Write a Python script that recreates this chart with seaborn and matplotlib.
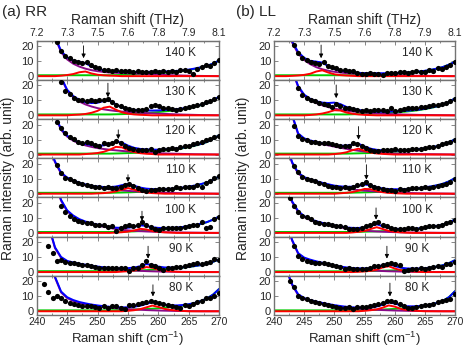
import numpy as np
import matplotlib
matplotlib.use('Agg')
import matplotlib.pyplot as plt
import seaborn as sns
from matplotlib.ticker import MultipleLocator

NA = np.nan

TEMPS = ['140 K', '130 K', '120 K', '110 K', '100 K', '90 K', '80 K']
CM_TICKS = [240, 245, 250, 255, 260, 265, 270]
THZ_LABELS = ['7.2', '7.3', '7.5', '7.6', '7.8', '7.9', '8.1']

# measured points (cm-1)
SHIFT = [241.2, 241.9, 242.6, 243.3, 244.0, 244.7, 245.4, 246.1, 246.8, 247.5,
         248.2, 248.9, 249.6, 250.3, 251.0, 251.7, 252.4, 253.1, 253.8, 254.5,
         255.2, 255.9, 256.6, 257.3, 258.0, 258.7, 259.4, 260.1, 260.8, 261.5,
         262.2, 262.9, 263.6, 264.3, 265.0, 265.7, 266.4, 267.1, 267.8, 268.5,
         269.2, 269.9]
# fit components sampled every 1 cm-1 from 240 to 270
FIT_SHIFT = list(range(240, 271))

# ---------------- RR ----------------
rr140 = [NA, NA, NA, 22.5, 16.5, 13.5, 11.8, 10.2, 9.3, 9.0, 9.6, 7.4, 6.4, 5.4, 4.4, 4.0, 3.6, 4.1, 3.4, 3.2,
         3.6, 3.0, 3.3, 2.8, 3.1, 2.6, 3.4, 2.7, 3.3, 3.0, 3.6, 2.6, 3.8, 4.0, 3.2, 1.6, 4.6, 5.8, 7.3, 7.0, 8.8, 10.6]
rr140_low = [80, 55, 37, 26, 16, 11.2, 8.3, 6.4, 5.0, 4.0, 3.3, 2.8, 2.4, 2.2, 2.1, 1.9, 1.8, 1.6, 1.4, 1.2,
             1.0, 0.8, 0.65, 0.5, 0.4, 0.3, 0.2, 0.15, 0.1, 0.05, 0]
rr140_high = [0.6] * 13 + [0.7, 0.8, 0.9, 1.0, 1.2, 1.4, 1.7, 2.0, 2.3, 2.6, 3.0, 3.5, 4.1, 4.9, 5.8, 6.8, 8.4, 10.5]
rr140_peak = [0] * 4 + [0.3, 0.75, 1.4, 2.6, 3.1, 1.8, 0.95, 0.55, 0.35, 0.2] + [0] * 17

rr130 = [NA, NA, NA, NA, 22.5, 16.0, 14.5, 11.6, 10.3, 10.0, 9.6, 10.2, 9.8, 10.4, 10.2, 11.0, 8.6, 7.0, 6.0, 5.0,
         4.2, 3.8, 3.5, 3.6, 4.4, 6.2, 6.8, 6.0, 5.2, 4.8, 4.2, 3.8, 4.3, 4.9, 5.6, 6.2, 6.9, 7.8, 8.6, 9.4, 10.8, 12.2]
rr130_low = [90, 65, 46, 34, 25, 16.5, 12, 9.2, 7.3, 5.9, 4.8, 4.0, 3.4, 2.9, 2.5, 2.2, 1.9, 1.7, 1.5, 1.3,
             1.1, 0.95, 0.8, 0.65, 0.5, 0.4, 0.3, 0.2, 0.15, 0.1, 0.05]
rr130_high = [0.6] * 13 + [0.7, 0.8, 0.95, 1.1, 1.3, 1.55, 1.9, 2.2, 2.6, 3.0, 3.5, 4.1, 4.8, 5.7, 6.8, 8.1, 10.0, 12.5]
rr130_peak = [0] * 6 + [0.3, 0.5, 0.9, 1.7, 3.0, 5.1, 5.8, 3.8, 2.0, 1.1, 0.6, 0.35, 0.2] + [0] * 12

rr120 = [NA, NA, NA, 22.0, 17.5, 14.3, 12.0, 10.3, 8.6, 8.0, 8.5, 7.6, 6.3, 5.8, 7.4, 7.0, 7.6, 9.0, 8.0, 6.0,
         4.2, 3.6, 3.1, 3.3, 3.0, 3.4, 2.0, 3.1, 3.5, 3.9, 4.6, 4.0, 5.0, 5.4, 6.0, 6.8, 7.4, 8.4, 9.6, 10.6, 11.5, 12.3]
rr120_low = [75, 52, 36, 25.5, 16.5, 12.0, 9.2, 7.4, 6.1, 5.1, 4.3, 3.7, 3.2, 2.8, 2.4, 2.1, 1.8, 1.55, 1.3, 1.1,
             0.9, 0.75, 0.6, 0.5, 0.4, 0.3, 0.2, 0.15, 0.1, 0.05, 0]
rr120_high = [0.6] * 13 + [0.7, 0.8, 0.95, 1.1, 1.3, 1.6, 1.9, 2.3, 2.7, 3.1, 3.6, 4.2, 5.0, 5.9, 7.0, 8.4, 10.4, 13.0]
rr120_peak = [0] * 8 + [0.3, 0.6, 1.0, 1.8, 3.2, 5.1, 4.8, 2.9, 1.6, 0.9, 0.5, 0.3] + [0] * 11

rr110 = [NA, NA, NA, 19.0, 14.0, 10.5, 9.6, 8.8, 7.3, 6.3, 5.5, 4.9, 4.6, 4.4, 4.0, 4.7, 3.8, 4.0, 4.4, 6.0,
         6.8, 5.3, 3.9, 2.8, 1.7, 2.7, 2.3, 2.9, 3.1, 3.4, 3.2, 4.4, 3.9, 4.6, 4.2, 4.5, 6.1, 4.6, 7.1, 8.6, 10.4, 11.8]
rr110_low = [70, 47, 32, 21, 13.5, 10.2, 8.3, 6.8, 5.6, 4.7, 4.0, 3.5, 3.0, 2.6, 2.2, 1.9, 1.6, 1.35, 1.1, 0.9,
             0.75, 0.6, 0.5, 0.4, 0.3, 0.25, 0.2, 0.15, 0.1, 0.05, 0]
rr110_high = [0.6] * 13 + [0.7, 0.8, 0.9, 1.05, 1.25, 1.5, 1.8, 2.1, 2.45, 2.8, 3.3, 3.8, 4.5, 5.3, 6.3, 7.5, 9.3, 11.6]
rr110_peak = [0] * 10 + [0.2, 0.4, 0.8, 1.5, 2.7, 3.8, 2.7, 1.5, 0.8, 0.4, 0.2] + [0] * 10

rr100 = [NA, NA, NA, NA, 18.0, 14.0, 11.0, 9.0, 7.8, 7.2, 6.7, 6.3, 5.6, 5.0, 5.1, 4.2, 4.6, 1.2, 3.5, 4.8,
         5.0, 4.6, 5.0, 7.1, 5.6, 4.2, 2.7, 1.8, 3.6, 3.2, 3.4, 3.6, 3.3, 3.8, 4.8, 5.2, 5.6, 7.6, 3.4, 3.8, 9.0, 10.8]
rr100_low = [100, 70, 48, 33, 21.5, 14.5, 11.0, 8.6, 7.0, 5.9, 4.9, 4.1, 3.3, 2.6, 2.1, 1.7, 1.4, 1.15, 0.95, 0.8,
             0.65, 0.5, 0.4, 0.3, 0.25, 0.2, 0.15, 0.1, 0.05, 0, 0]
rr100_high = [0.6] * 13 + [0.7, 0.8, 0.9, 1.0, 1.2, 1.45, 1.75, 2.05, 2.4, 2.75, 3.2, 3.7, 4.35, 5.1, 6.0, 7.2, 8.9, 11.0]
rr100_peak = [0] * 13 + [0.2, 0.45, 0.85, 1.6, 2.7, 2.3, 1.2, 0.65, 0.35, 0.2] + [0] * 8

rr90 = [NA, 17.2, 12.5, 7.4, 7.8, 7.0, 6.3, 5.8, 5.4, 4.9, 4.5, 3.8, 3.4, 2.5, 2.8, 2.6, 2.9, 2.4, 2.6, 2.9,
        0.9, 2.6, 3.0, 4.5, 7.1, 4.5, 4.1, 2.6, 1.5, 2.8, 3.0, 3.2, 3.5, 3.8, 4.5, 5.5, 6.4, 5.5, 6.0, 7.0, 8.5, 8.0]
rr90_low = [90, 55, 30, 16.0, 9.5, 6.9, 5.8, 5.0, 4.3, 3.7, 3.1, 2.6, 2.2, 1.8, 1.5, 1.2, 1.0, 0.8, 0.65, 0.5,
            0.4, 0.3, 0.25, 0.2, 0.15, 0.1, 0.05, 0, 0, 0, 0]
rr90_high = [0.6] * 13 + [0.7, 0.75, 0.85, 0.95, 1.1, 1.3, 1.5, 1.75, 2.0, 2.3, 2.6, 3.0, 3.5, 4.0, 4.7, 5.6, 6.9, 8.5]
rr90_peak = [0] * 14 + [0.3, 0.6, 1.05, 2.0, 3.35, 2.9, 1.5, 0.8, 0.45, 0.2] + [0] * 7

rr80 = [18.4, 13.0, 8.8, 9.9, 8.6, 6.6, 5.5, 4.8, 4.0, 3.4, 3.6, 3.6, 2.6, 2.1, 3.2, 2.4, 3.4, 3.6, 2.5, 1.7,
        3.9, 3.9, 4.6, 5.2, 6.0, 7.0, 6.3, 5.6, 5.1, 4.5, 3.8, 3.1, 2.1, 3.9, 3.8, 4.8, 5.9, 7.0, 8.8, 9.2, 10.5, 12.1]
rr80_low = [95, 60, 36, 22.5, 12.6, 8.8, 6.9, 5.6, 4.7, 3.9, 3.3, 2.8, 2.4, 2.0, 1.7, 1.4, 1.2, 1.0, 0.8, 0.65,
            0.5, 0.4, 0.3, 0.2, 0.15, 0.1, 0.05, 0, 0, 0, 0]
rr80_high = [0.6] * 13 + [0.75, 0.85, 1.0, 1.15, 1.3, 1.5, 1.7, 2.0, 2.4, 2.8, 3.2, 3.8, 4.6, 5.6, 6.9, 8.6, 11.2, 15.0]
rr80_peak = [0] * 15 + [0.3, 0.7, 1.4, 2.6, 3.8, 2.9, 1.6, 0.9, 0.5, 0.25] + [0] * 6

rr_arrow_x = [247.7, 251.7, 253.4, 255.0, 257.3, 258.3, 259.1]
rr_arrow_tip = [12.0, 12.1, 10.3, 7.8, 8.0, 9.0, 9.9]
rr_arrow_top = [20.3, 21.5, 16.5, 12.7, 14.5, 17.3, 17.7]

# ---------------- LL ----------------
ll140 = [NA, NA, NA, 20.5, 15.2, 11.9, 10.6, 9.6, 8.9, 8.1, 9.5, 6.8, 6.3, 5.2, 4.3, 3.8, 3.6, 3.3, 2.4, 1.5,
         1.6, 1.9, 1.7, 1.3, 0.8, 2.4, 1.9, 2.4, 2.8, 3.0, 2.4, 3.0, 3.7, 3.1, 3.0, 4.1, 3.7, 5.2, 4.6, 6.4, 7.5, 9.7]
ll140_low = [80, 52, 34, 22.5, 15.0, 10.8, 8.0, 6.0, 4.6, 3.6, 2.9, 2.4, 2.0, 1.7, 1.5, 1.3, 1.15, 1.0, 0.85, 0.7,
             0.6, 0.5, 0.4, 0.3, 0.25, 0.2, 0.15, 0.1, 0.05, 0, 0]
ll140_high = [0.6] * 13 + [0.65, 0.7, 0.75, 0.85, 0.95, 1.1, 1.3, 1.5, 1.75, 2.05, 2.4, 2.85, 3.4, 4.1, 5.0, 6.1, 7.7, 9.7]
ll140_peak = [0] * 3 + [0.2, 0.45, 0.85, 1.6, 3.1, 3.9, 2.4, 1.25, 0.7, 0.4, 0.2] + [0] * 17

ll130 = [NA, NA, NA, NA, 18.5, 13.7, 11.7, 10.3, 9.4, 8.5, 7.6, 6.6, 5.9, 7.4, 6.0, 5.0, 4.8, 4.5, 3.7, 3.0,
         3.7, 2.6, 3.5, 3.7, 3.6, 3.0, 4.8, 3.2, 3.6, 4.2, 4.8, 5.2, 5.2, 5.8, 5.6, 6.1, 6.6, 7.0, 7.4, 8.5, 9.4, 11.2]
ll130_low = [100, 68, 45, 30, 19.0, 13.2, 10.2, 8.2, 6.7, 5.5, 4.5, 3.7, 3.1, 2.6, 2.2, 1.85, 1.55, 1.3, 1.1, 0.9,
             0.75, 0.6, 0.5, 0.4, 0.3, 0.25, 0.2, 0.15, 0.1, 0.05, 0]
ll130_high = [0.6] * 13 + [0.7, 0.8, 0.9, 1.0, 1.15, 1.35, 1.6, 1.9, 2.2, 2.55, 3.0, 3.5, 4.2, 5.0, 5.9, 7.1, 8.9, 11.5]
ll130_peak = [0] * 6 + [0.25, 0.6, 1.2, 2.15, 3.4, 3.2, 1.9, 1.05, 0.6, 0.3, 0.15] + [0] * 14

ll120 = [NA, NA, NA, 19.0, 12.4, 10.6, 9.6, 8.7, 8.1, 7.8, 7.7, 7.4, 7.0, 6.4, 5.9, 5.4, 5.8, 7.4, 7.1, 5.9,
         4.4, 3.3, 2.6, 2.1, 3.1, 2.8, 3.3, 3.5, 3.2, 3.2, 3.2, 4.0, 3.5, 3.6, 4.4, 5.0, 5.3, 5.8, 6.9, 7.8, 8.3, 9.4]
ll120_low = [85, 60, 40, 26, 13.5, 10.2, 8.8, 7.8, 6.9, 6.1, 5.3, 4.5, 3.8, 3.1, 2.5, 2.0, 1.6, 1.3, 1.05, 0.85,
             0.7, 0.55, 0.45, 0.35, 0.3, 0.25, 0.2, 0.15, 0.1, 0.05, 0]
ll120_high = [0.6] * 13 + [0.7, 0.8, 0.9, 1.0, 1.15, 1.35, 1.6, 1.85, 2.15, 2.5, 2.9, 3.35, 3.9, 4.6, 5.4, 6.5, 8.1, 10.3]
ll120_peak = [0] * 10 + [0.3, 0.75, 1.5, 2.9, 3.9, 2.5, 1.3, 0.7, 0.4, 0.2] + [0] * 11

ll110 = [NA, NA, NA, 18.5, 14.3, 11.2, 10.1, 9.3, 8.8, 7.4, 6.3, 5.3, 4.7, 4.4, 3.9, 4.8, 4.0, 4.5, 5.5, 6.3,
         7.6, 5.8, 4.8, 3.8, 3.3, 2.8, 2.2, 1.6, 3.1, 2.7, 3.2, 3.6, 3.8, 3.9, 4.5, 3.8, 4.4, 4.9, 5.6, 6.6, 7.6, 9.8]
ll110_low = [75, 50, 33, 20.5, 13.5, 10.5, 9.0, 7.8, 6.7, 5.7, 4.8, 4.0, 3.4, 2.9, 2.4, 2.0, 1.7, 1.4, 1.15, 0.95,
             0.8, 0.65, 0.5, 0.4, 0.3, 0.25, 0.2, 0.15, 0.1, 0.05, 0]
ll110_high = [0.6] * 13 + [0.7, 0.8, 0.9, 1.0, 1.15, 1.35, 1.6, 1.9, 2.2, 2.55, 2.95, 3.4, 4.0, 4.7, 5.5, 6.6, 8.2, 10.5]
ll110_peak = [0] * 11 + [0.3, 0.6, 1.1, 2.0, 3.2, 3.0, 1.8, 1.0, 0.55, 0.3, 0.15] + [0] * 9

ll100 = [NA, NA, 23.0, 17.8, 14.0, 11.6, 10.5, 9.4, 7.2, 6.7, 6.1, 5.7, 5.3, 4.8, 4.4, 4.0, 2.8, 2.4, 2.5, 3.4,
         4.7, 5.6, 6.5, 7.0, 5.4, 4.4, 3.4, 2.4, 2.7, 2.7, 3.0, 3.4, 2.7, 3.4, 3.8, 4.3, 4.5, 4.8, 5.6, 6.6, 7.6, 8.9]
ll100_low = [75, 50, 32, 20.5, 14.0, 10.6, 8.6, 7.2, 6.1, 5.2, 4.4, 3.7, 3.0, 2.4, 1.9, 1.5, 1.2, 0.95, 0.75, 0.6,
             0.5, 0.4, 0.3, 0.25, 0.2, 0.15, 0.1, 0.05, 0, 0, 0]
ll100_high = [0.6] * 13 + [0.65, 0.7, 0.8, 0.9, 1.0, 1.15, 1.35, 1.55, 1.8, 2.05, 2.4, 2.8, 3.3, 3.9, 4.6, 5.6, 7.0, 9.0]
ll100_peak = [0] * 13 + [0.3, 0.7, 1.35, 2.6, 3.8, 2.6, 1.35, 0.7, 0.35, 0.15] + [0] * 8

ll90 = [NA, NA, NA, 17.5, 10.5, 8.8, 7.2, 6.6, 6.2, 5.8, 6.1, 5.5, 4.8, 4.0, 3.6, 2.3, 2.8, 2.2, 1.8, 1.9,
        2.2, 2.8, 3.8, 4.2, 4.7, 5.6, 6.1, 5.2, 4.5, 0.8, 1.6, 1.9, 2.3, 2.9, 2.0, 2.6, 3.5, 3.9, 3.7, 5.1, 5.1, 7.0]
ll90_low = [85, 55, 34, 21.0, 12.2, 9.2, 7.8, 6.7, 5.7, 4.8, 3.9, 3.2, 2.6, 2.1, 1.7, 1.35, 1.1, 0.9, 0.7, 0.55,
            0.45, 0.35, 0.25, 0.2, 0.15, 0.1, 0.05, 0, 0, 0, 0]
ll90_high = [0.5] * 13 + [0.55, 0.6, 0.65, 0.7, 0.8, 0.9, 1.0, 1.15, 1.3, 1.5, 1.75, 2.1, 2.5, 3.0, 3.7, 4.6, 6.0, 8.0]
ll90_peak = [0] * 14 + [0.2, 0.45, 0.85, 1.6, 3.1, 3.9, 2.4, 1.25, 0.7, 0.35, 0.15] + [0] * 6

ll80 = [NA, NA, 20.0, 16.0, 10.0, 8.9, 8.0, 7.1, 6.2, 5.4, 4.8, 4.0, 3.4, 2.9, 2.5, 2.2, 2.6, 1.8, 2.8, 2.8,
        2.9, 3.4, 4.0, 4.8, 5.4, 7.0, 6.7, 5.9, 4.7, 3.5, 2.5, 2.1, 3.0, 3.6, 3.9, 4.2, 5.0, 6.1, 6.9, 7.5, 8.3, 11.5]
ll80_low = [75, 45, 28, 17.5, 10.8, 8.2, 6.9, 5.9, 5.0, 4.2, 3.5, 2.9, 2.4, 2.0, 1.7, 1.4, 1.15, 0.95, 0.8, 0.65,
            0.5, 0.4, 0.3, 0.25, 0.2, 0.15, 0.1, 0.05, 0, 0, 0]
ll80_high = [0.6] * 13 + [0.65, 0.7, 0.8, 0.9, 1.0, 1.15, 1.35, 1.6, 1.9, 2.2, 2.6, 3.1, 3.7, 4.5, 5.5, 7.0, 9.5, 13.5]
ll80_peak = [0] * 15 + [0.3, 0.7, 1.25, 2.4, 3.9, 3.1, 1.6, 0.85, 0.45, 0.2] + [0] * 6

ll_arrow_x = [247.8, 250.3, 254.0, 255.3, 256.9, 258.7, 259.2]
ll_arrow_tip = [12.0, 11.5, 9.9, 9.4, 8.9, 9.0, 9.9]
ll_arrow_top = [20.8, 20.3, 18.7, 19.4, 16.7, 17.3, 18.8]

RR_PANELS = [
    (rr140, rr140_low, rr140_high, rr140_peak),
    (rr130, rr130_low, rr130_high, rr130_peak),
    (rr120, rr120_low, rr120_high, rr120_peak),
    (rr110, rr110_low, rr110_high, rr110_peak),
    (rr100, rr100_low, rr100_high, rr100_peak),
    (rr90, rr90_low, rr90_high, rr90_peak),
    (rr80, rr80_low, rr80_high, rr80_peak),
]
LL_PANELS = [
    (ll140, ll140_low, ll140_high, ll140_peak),
    (ll130, ll130_low, ll130_high, ll130_peak),
    (ll120, ll120_low, ll120_high, ll120_peak),
    (ll110, ll110_low, ll110_high, ll110_peak),
    (ll100, ll100_low, ll100_high, ll100_peak),
    (ll90, ll90_low, ll90_high, ll90_peak),
    (ll80, ll80_low, ll80_high, ll80_peak),
]

BLUE = '#0000ff'
PURPLE = '#8a0a8a'
GREEN = '#00cc00'
RED = '#ff0000'
FRAME = '0.45'
LW = 1.4

sns.set_style('ticks')
plt.rcParams['font.family'] = ['Liberation Sans', 'DejaVu Sans']
plt.rcParams['mathtext.fontset'] = 'custom'
plt.rcParams['mathtext.rm'] = 'Liberation Sans'

fig = plt.figure(figsize=(4.68, 3.48), dpi=100)

TOP, BOTTOM = 1 - 40.7 / 348, 1 - 315 / 348
PANEL_H = (TOP - BOTTOM) / 7
COLUMNS = [(0.0785, 0.39), (0.5855, 0.387)]


def draw_panel(ax, panel, temp, ax_x, ax_tip, ax_top):
    pts, low, high, peak = panel
    low = np.array(low, dtype=float)
    high = np.array(high, dtype=float)
    peak = np.array(peak, dtype=float)
    total = low + high + peak

    sns.lineplot(x=FIT_SHIFT, y=high, color=GREEN, lw=LW, estimator=None, ax=ax)
    sns.lineplot(x=FIT_SHIFT, y=low, color=PURPLE, lw=LW, estimator=None, ax=ax)
    sns.lineplot(x=FIT_SHIFT, y=peak, color=RED, lw=LW, estimator=None, ax=ax)
    sns.lineplot(x=FIT_SHIFT, y=total, color=BLUE, lw=LW, estimator=None, ax=ax)
    sns.scatterplot(x=SHIFT, y=np.array(pts, dtype=float), color='black', s=14,
                    linewidth=0, ax=ax, zorder=5)

    ax.annotate('', xy=(ax_x, ax_tip), xytext=(ax_x, ax_top),
                arrowprops=dict(arrowstyle='-|>', color='black', lw=0.6,
                                mutation_scale=6, shrinkA=0, shrinkB=0))
    ax.text(0.79, 0.69, temp, transform=ax.transAxes, ha='center', va='center',
            fontsize=8.5)

    ax.set_xlim(240, 270)
    ax.set_ylim(-2.5, 23.7)
    ax.set_xticks(CM_TICKS)
    ax.xaxis.set_minor_locator(MultipleLocator(2.5))
    ax.set_yticks([0, 10, 20])
    ax.set_xlabel('')
    ax.set_ylabel('')
    ax.tick_params(which='both', direction='in', top=True, right=True,
                   color=FRAME, width=0.6, labelsize=8, pad=2)
    ax.tick_params(axis='x', labelsize=7.5, pad=1.5)
    ax.tick_params(which='major', length=3)
    ax.tick_params(which='minor', length=1.6)
    for spine in ax.spines.values():
        spine.set_color(FRAME)
        spine.set_linewidth(1.0)


for (x0, w), panels, ax_xs, tips, tops in [
        (COLUMNS[0], RR_PANELS, rr_arrow_x, rr_arrow_tip, rr_arrow_top),
        (COLUMNS[1], LL_PANELS, ll_arrow_x, ll_arrow_tip, ll_arrow_top)]:
    for i, panel in enumerate(panels):
        ax = fig.add_axes([x0, TOP - (i + 1) * PANEL_H, w, PANEL_H])
        draw_panel(ax, panel, TEMPS[i], ax_xs[i], tips[i], tops[i])
        if i == 0:
            sec = ax.secondary_xaxis('top')
            sec.set_xticks(CM_TICKS, labels=THZ_LABELS)
            sec.tick_params(direction='in', length=0, labelsize=7.5, pad=2)
            sec.spines['top'].set_color(FRAME)
            sec.set_xlabel('Raman shift (THz)', fontsize=10, labelpad=3)
        if i != len(panels) - 1:
            ax.tick_params(labelbottom=False)
    # bottom axis title, placed in figure coordinates so it stays inside
    fig.text(x0 + w / 2, 1 - 343 / 348, 'Raman shift (cm$^{-1}$)',
             ha='center', va='baseline', fontsize=9.5)

fig.text(2 / 468, 1 - 12 / 348, '(a) RR', fontsize=11, ha='left', va='center')
fig.text(236 / 468, 1 - 12 / 348, '(b) LL', fontsize=11, ha='left', va='center')
ymid = (TOP + BOTTOM) / 2
fig.text(8 / 468, ymid, 'Raman intensity (arb. unit)', rotation=90,
         ha='center', va='center', fontsize=10)
fig.text(243 / 468, ymid, 'Raman intensity (arb. unit)', rotation=90,
         ha='center', va='center', fontsize=10)

fig.savefig('out.png', dpi=100)
